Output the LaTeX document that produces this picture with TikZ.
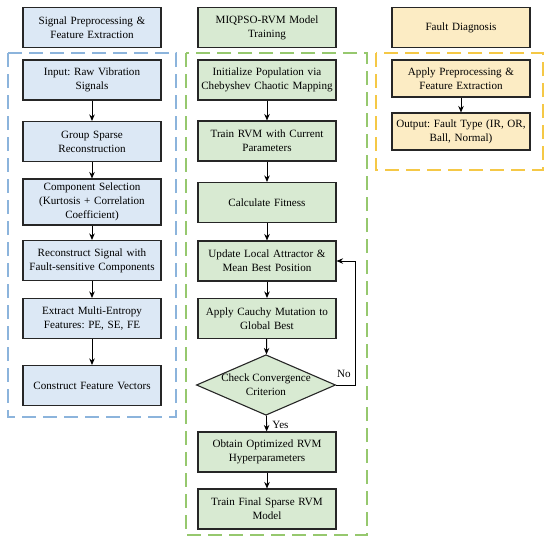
\documentclass[tikz,border=0pt]{standalone}
\usepackage{fontspec}
\setmainfont{Liberation Serif}
\usepackage{tikz}
\usetikzlibrary{positioning,arrows.meta,shapes.geometric,calc}
\usepackage{xcolor}
\definecolor{prepfill}{RGB}{220,232,245}
\definecolor{trainfill}{RGB}{216,234,210}
\definecolor{diagfill}{RGB}{252,236,196}
\definecolor{prepline}{RGB}{140,180,220}
\definecolor{trainline}{RGB}{150,200,110}
\definecolor{diagline}{RGB}{245,200,70}
\frenchspacing

\begin{document}
\begin{tikzpicture}[x=1pt, y=-1pt, font=\fontsize{11.1}{13.8}\selectfont,
  blk/.style={draw=black!85, line width=1.1pt, minimum width=138pt, text width=138pt,
    minimum height=40pt, align=center, inner sep=0pt},
  prep/.style={blk, fill=prepfill},
  train/.style={blk, fill=trainfill},
  diag/.style={blk, fill=diagfill},
  dbox/.style={line width=1.2pt, dash pattern=on 14pt off 7pt},
  flow/.style={-{Stealth[length=6.5pt,width=5.5pt]}, line width=0.9pt, black}]
\useasboundingbox (0,0) rectangle (550,542);
% containers
\draw[dbox, prepline] (8,53) rectangle (176,417);
\draw[dbox, trainline] (186,53) rectangle (367,535);
\draw[dbox, diagline] (376,53) rectangle (543,170);
% headers
\node[prep]  (hprep)  at (92,27.5)  {Signal Preprocessing \&\\Feature Extraction};
\node[train] (htrain) at (267,27.5) {MIQPSO-RVM Model\\Training};
\node[diag]  (hdiag)  at (461,27.5) {Fault Diagnosis};
% left column
\node[prep] (p1) at (92,80)    {Input: Raw Vibration\\Signals};
\node[prep] (p2) at (92,141.5) {Group Sparse\\Reconstruction};
\node[prep, minimum height=46pt] (p3) at (92,202) {Component Selection\\(Kurtosis + Correlation\\Coefficient)};
\node[prep] (p4) at (92,260.5) {Reconstruct Signal with\\Fault-sensitive Components};
\node[prep] (p5) at (92,318.5) {Extract Multi-Entropy\\Features: PE, SE, FE};
\node[prep] (p6) at (92,385.5) {Construct Feature Vectors};
% middle column
\node[train] (t1) at (267,80)    {Initialize Population via\\Chebyshev Chaotic Mapping};
\node[train] (t2) at (267,141)   {Train RVM with Current\\Parameters};
\node[train] (t3) at (267,202.5) {Calculate Fitness};
\node[train] (t4) at (267,261)   {Update Local Attractor \&\\Mean Best Position};
\node[train] (t5) at (267,318.5) {Apply Cauchy Mutation to\\Global Best};
\node[diamond, draw=black!85, line width=1.1pt, fill=trainfill, align=center, inner sep=0pt,
  minimum width=138pt, minimum height=60pt, aspect=2.3] (chk) at (266,385) {Check Convergence\\Criterion};
\node[train] (t6) at (267,452) {Obtain Optimized RVM\\Hyperparameters};
\node[train] (t7) at (267,509) {Train Final Sparse RVM\\Model};
% right column
\node[diag, minimum height=37pt] (d1) at (461,78.5)  {Apply Preprocessing \&\\Feature Extraction};
\node[diag, minimum height=37pt] (d2) at (461,131.5) {Output: Fault Type (IR, OR,\\Ball, Normal)};
% arrows
\foreach \a/\b in {p1/p2,p2/p3,p3/p4,p4/p5,p5/p6,t1/t2,t2/t3,t3/t4,t4/t5,t5/chk,t6/t7,d1/d2}
  \draw[flow] (\a) -- (\b);
\draw[flow] (chk) -- node[right, xshift=2pt, yshift=-1pt] (yes) {Yes} (t6);
\coordinate (loop) at (355,261);
\draw[flow] (chk.east) -- (chk.east -| loop) -- (loop) -- (t4.east);
\node (no) at (344,374) {No};
\end{tikzpicture}
\end{document}
